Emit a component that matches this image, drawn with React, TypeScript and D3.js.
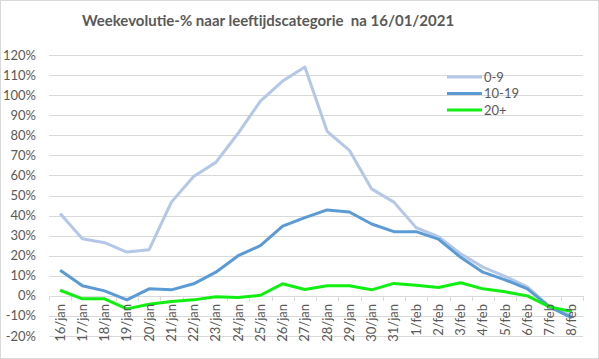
import React from "react";
import * as d3 from "d3";

const categories = ["16/jan","17/jan","18/jan","19/jan","20/jan","21/jan","22/jan","23/jan","24/jan","25/jan","26/jan","27/jan","28/jan","29/jan","30/jan","31/jan","1/feb","2/feb","3/feb","4/feb","5/feb","6/feb","7/feb","8/feb"];
const series0to9 = [41, 28.5, 26.5, 21.8, 23, 46.7, 59.5, 66.5, 81, 97, 107, 114, 82, 72.5, 53.3, 46.7, 34, 29.5, 21, 14.3, 9.7, 4.5, -5.5, -10];
const series10to19 = [12.8, 5, 2.5, -2, 3.5, 3, 6, 11.8, 20, 25, 34.7, 39, 42.8, 41.8, 35.8, 32, 32, 28.3, 19.2, 11.8, 8, 3.5, -5.5, -11];
const series20plus = [2.8, -1.5, -1.5, -6.5, -4.2, -2.8, -2, -0.5, -0.8, 0.3, 6, 3.2, 5, 5, 3, 6.2, 5.3, 4.2, 6.5, 3.5, 2, 0, -5.5, -7.8];
const yTicks = [-20, -10, 0, 10, 20, 30, 40, 50, 60, 70, 80, 90, 100, 110, 120];
const seriesNames = ["0-9", "10-19", "20+"];
const colors = ["#B4C7E7", "#5B9BD5", "#11EE11"];
const title = "Weekevolutie-% naar leeftijdscategorie  na 16/01/2021";

export default function App() {
  const W = 599, H = 359;
  const left = 49, right = 583, top = 55, bottom = 336;
  const x = d3.scaleBand<string>().domain(categories).range([left, right]);
  const y = d3.scaleLinear().domain([-20, 120]).range([bottom, top]);
  const cx = (c: string) => (x(c) as number) + x.bandwidth() / 2;
  const allSeries = [series0to9, series10to19, series20plus];
  const line = d3.line<number>().x((_, i) => cx(categories[i])).y((d) => y(d));
  const font = "Lato, 'Open Sans', sans-serif";
  const textColor = "#595959";
  const boundaries = [...categories.map((c) => x(c) as number), right];
  return (
    <div style={{ position: "fixed", top: 0, left: 0 }}>
      <svg width={W} height={H} style={{ display: "block", background: "#fff" }}>
        <rect x={0.5} y={0.5} width={W - 1} height={H - 1} fill="#fff" stroke="#d9d9d9" />
        <text x={268} y={26} textAnchor="middle" fontFamily={font} fontWeight="bold" fontSize={15} fill={textColor} style={{ whiteSpace: "pre" }}>{title}</text>
        {yTicks.map((t) => (
          <g key={t}>
            <line x1={left} x2={right} y1={Math.round(y(t)) + 0.5} y2={Math.round(y(t)) + 0.5} stroke="#d9d9d9" strokeWidth={1} />
            <text x={36} y={y(t)} dy="0.35em" textAnchor="end" fontFamily={font} fontSize={13} fill={textColor}>{t}%</text>
          </g>
        ))}
        {boundaries.map((b, i) => (
          <line key={i} x1={Math.round(b) + 0.5} x2={Math.round(b) + 0.5} y1={y(0)} y2={y(0) + 5} stroke="#d9d9d9" />
        ))}
        {allSeries.map((s, i) => (
          <path key={i} d={line(s) as string} fill="none" stroke={colors[i]} strokeWidth={3} strokeLinejoin="round" />
        ))}
        {categories.map((c) => (
          <text key={c} transform={`translate(${cx(c)},304) rotate(-90)`} textAnchor="end" dy="0.35em" fontFamily={font} fontSize={13} fill={textColor}>{c}</text>
        ))}
        {seriesNames.map((n, i) => (
          <g key={n}>
            <line x1={447} x2={482} y1={77 + i * 16.5} y2={77 + i * 16.5} stroke={colors[i]} strokeWidth={3} />
            <text x={484} y={77 + i * 16.5} dy="0.35em" fontFamily={font} fontSize={13} fill={textColor}>{n}</text>
          </g>
        ))}
      </svg>
    </div>
  );
}
